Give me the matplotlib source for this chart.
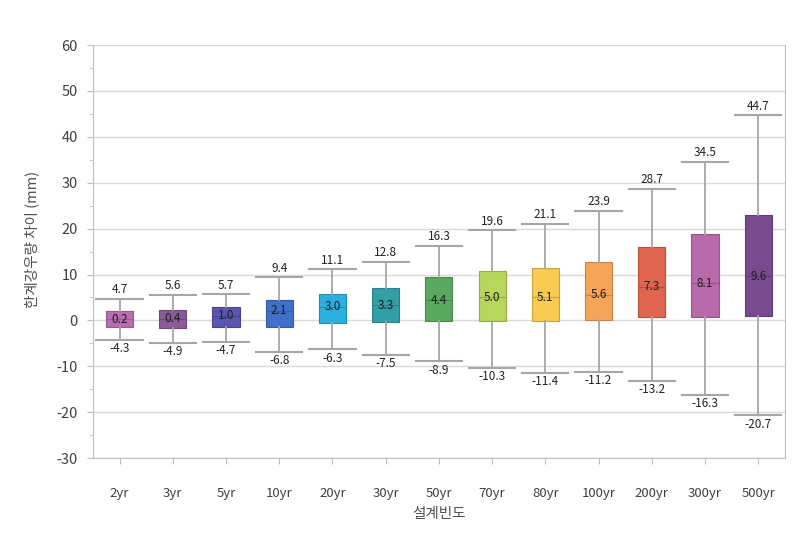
import numpy as np
import matplotlib
matplotlib.use('Agg')
import matplotlib.pyplot as plt
import matplotlib.colors as mcolors

plt.rcParams['font.family'] = ['Noto Sans CJK KR', 'DejaVu Sans']
plt.rcParams['axes.unicode_minus'] = False

# 설계빈도별 상자그림 값
categories = ['2yr', '3yr', '5yr', '10yr', '20yr', '30yr', '50yr',
              '70yr', '80yr', '100yr', '200yr', '300yr', '500yr']
whis_hi = [4.7, 5.6, 5.7, 9.4, 11.1, 12.8, 16.3, 19.6, 21.1, 23.9, 28.7, 34.5, 44.7]
whis_lo = [-4.3, -4.9, -4.7, -6.8, -6.3, -7.5, -8.9, -10.3, -11.4, -11.2, -13.2, -16.3, -20.7]
medians = [0.2, 0.4, 1.0, 2.1, 3.0, 3.3, 4.4, 5.0, 5.1, 5.6, 7.3, 8.1, 9.6]
q3 = [2.0, 2.3, 2.9, 4.4, 5.7, 7.0, 9.4, 10.8, 11.4, 12.8, 16.0, 18.9, 23.0]
q1 = [-1.4, -1.7, -1.4, -1.4, -0.5, -0.4, -0.2, -0.2, -0.2, 0.1, 0.7, 0.7, 0.9]
colors = ['#b96eb4', '#8a5a9a', '#5a55b0', '#4070cc', '#2ab0e0', '#349ea6', '#5aa860',
          '#b8d65a', '#f8cc50', '#f5a55a', '#e0654f', '#b86aaa', '#7a4a8e']

stats = []
for i in range(len(categories)):
    stats.append({'med': medians[i], 'q1': q1[i], 'q3': q3[i],
                  'whislo': whis_lo[i], 'whishi': whis_hi[i], 'fliers': []})

fig = plt.figure(figsize=(8.12, 5.37), dpi=100)
ax = fig.add_axes([0.1145, 0.147, 0.852, 0.769])

grey = '#a6a6a6'
bp = ax.bxp(stats, positions=range(len(categories)), widths=0.51, capwidths=0.87,
            patch_artist=True, showfliers=False,
            whiskerprops=dict(color=grey, linewidth=1.3),
            capprops=dict(color=grey, linewidth=1.5),
            medianprops=dict(linewidth=0.8))

for i, box in enumerate(bp['boxes']):
    dark = np.array(mcolors.to_rgb(colors[i])) * 0.8
    box.set_facecolor(colors[i])
    box.set_edgecolor(dark)
    box.set_linewidth(0.8)
    bp['medians'][i].set_color(dark)

for i in range(len(categories)):
    ax.text(i, whis_hi[i] + 0.6, f'{whis_hi[i]:.1f}', ha='center', va='bottom',
            fontsize=8.5, color='#222222')
    ax.text(i, whis_lo[i] - 0.5, f'{whis_lo[i]:.1f}', ha='center', va='top',
            fontsize=8.5, color='#222222')
    ax.text(i, medians[i], f'{medians[i]:.1f}', ha='center', va='center',
            fontsize=8.5, color='#1e1e1e')

ax.set_xlim(-0.5, len(categories) - 0.5)
ax.set_ylim(-30, 60)
ax.set_yticks(np.arange(-30, 61, 10))
ax.set_yticks(np.arange(-30, 61, 5), minor=True)
ax.set_xticks(range(len(categories)))
ax.set_xticklabels(categories)
ax.yaxis.grid(True, color='#d9d9d9', linewidth=1)
ax.set_axisbelow(True)

for s in ax.spines.values():
    s.set_color('#bfbfbf')
ax.spines['top'].set_visible(False)
ax.tick_params(axis='y', which='major', length=4, color='#bfbfbf', pad=7,
               labelsize=10.5, labelcolor='#404040')
ax.tick_params(axis='y', which='minor', length=3, color='#bfbfbf')
ax.tick_params(axis='x', length=4, color='#bfbfbf', pad=17,
               labelsize=9.5, labelcolor='#404040')

ax.set_xlabel('설계빈도', fontsize=10.5, color='#505050', labelpad=5)
ax.set_ylabel('한계강우량 차이 (mm)', fontsize=10.5, color='#505050')
ax.yaxis.set_label_coords(-0.078, 0.53)

fig.savefig('out.png', dpi=100)
